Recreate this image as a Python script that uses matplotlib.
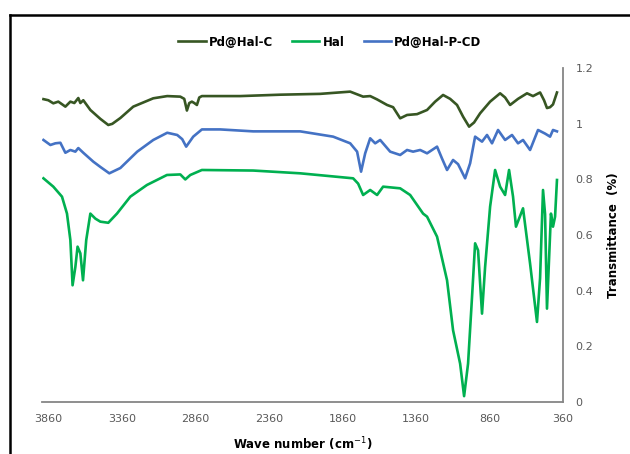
import matplotlib
matplotlib.use("Agg")
import matplotlib.pyplot as plt
from matplotlib.lines import Line2D

# ---- data ----
wn_pdhalc = [3895, 3862, 3828, 3794, 3767, 3746, 3712, 3685, 3658, 3644, 3624, 3576, 3508, 3454,
             3427, 3372, 3284, 3148, 3053, 2964, 2937, 2919, 2903, 2885, 2869, 2851, 2835, 2817,
             2556, 2284, 2012, 1808, 1720, 1672, 1625, 1557, 1516, 1468, 1421, 1353, 1285, 1230,
             1176, 1128, 1081, 1040, 999, 965, 924, 856, 788, 754, 720, 666, 605, 564, 516, 489,
             469, 448, 428, 401]
t_pdhalc = [1.089, 1.085, 1.074, 1.080, 1.070, 1.062, 1.080, 1.075, 1.093, 1.075, 1.085, 1.050,
            1.018, 0.996, 1.000, 1.021, 1.062, 1.092, 1.100, 1.098, 1.090, 1.048, 1.075, 1.080,
            1.075, 1.068, 1.095, 1.100, 1.100, 1.105, 1.108, 1.116, 1.098, 1.100, 1.088, 1.068,
            1.060, 1.020, 1.032, 1.035, 1.050, 1.080, 1.104, 1.090, 1.068, 1.026, 0.990, 1.005,
            1.038, 1.080, 1.110, 1.095, 1.068, 1.090, 1.110, 1.100, 1.113, 1.085, 1.057, 1.060,
            1.070, 1.113]

wn_hal = [3895, 3828, 3769, 3735, 3712, 3697, 3678, 3663, 3644, 3626, 3604, 3576, 3542, 3508,
          3454, 3395, 3304, 3191, 3055, 2964, 2930, 2896, 2817, 2468, 2148, 1788, 1754, 1720,
          1672, 1625, 1584, 1468, 1400, 1312, 1285, 1217, 1149, 1108, 1060, 1033, 1006, 979,
          958, 938, 911, 890, 856, 822, 788, 754, 727, 700, 680, 632, 584, 537, 516, 496, 482,
          469, 442, 428, 414, 401]
t_hal = [0.804, 0.774, 0.738, 0.677, 0.582, 0.419, 0.485, 0.558, 0.534, 0.437, 0.582, 0.677,
         0.659, 0.648, 0.644, 0.677, 0.738, 0.780, 0.816, 0.818, 0.800, 0.816, 0.834, 0.832,
         0.822, 0.804, 0.785, 0.744, 0.762, 0.744, 0.774, 0.768, 0.744, 0.677, 0.666, 0.594,
         0.437, 0.257, 0.137, 0.020, 0.137, 0.377, 0.570, 0.545, 0.317, 0.485, 0.702, 0.834,
         0.774, 0.744, 0.834, 0.738, 0.630, 0.696, 0.497, 0.287, 0.445, 0.762, 0.675, 0.335,
         0.677, 0.630, 0.666, 0.798]

wn_pdhalpcd = [3895, 3848, 3814, 3780, 3746, 3712, 3678, 3658, 3624, 3556, 3508, 3447, 3372,
               3257, 3148, 3053, 2985, 2951, 2924, 2876, 2817, 2692, 2468, 2148, 1924, 1808,
               1761, 1734, 1706, 1672, 1638, 1604, 1536, 1468, 1421, 1380, 1332, 1285, 1217,
               1183, 1149, 1108, 1074, 1026, 992, 958, 911, 877, 843, 802, 754, 707, 666, 632,
               584, 530, 482, 448, 428, 401]
t_pdhalpcd = [0.942, 0.924, 0.930, 0.932, 0.896, 0.906, 0.900, 0.913, 0.896, 0.864, 0.845,
              0.822, 0.841, 0.900, 0.942, 0.968, 0.960, 0.945, 0.918, 0.954, 0.980, 0.980,
              0.973, 0.973, 0.954, 0.930, 0.900, 0.828, 0.894, 0.948, 0.930, 0.942, 0.900,
              0.888, 0.906, 0.900, 0.906, 0.894, 0.918, 0.875, 0.834, 0.870, 0.855, 0.804,
              0.858, 0.954, 0.936, 0.960, 0.930, 0.978, 0.942, 0.960, 0.930, 0.942, 0.906,
              0.978, 0.965, 0.954, 0.978, 0.973]

series_names = ["Pd@Hal-C", "Hal", "Pd@Hal-P-CD"]
x_ticks = [3860, 3360, 2860, 2360, 1860, 1360, 860, 360]
y_ticks = [0, 0.2, 0.4, 0.6, 0.8, 1, 1.2]
y_tick_labels = ["0", "0.2", "0.4", "0.6", "0.8", "1", "1.2"]

colors = ["#375623", "#00B050", "#4472C4"]

fig = plt.figure(figsize=(6.30, 4.54), dpi=100)
ax = fig.add_axes([42/630, 52.3/454, (563-42)/630, (401.7-68.3)/454])

for wn, t, name, c in zip([wn_pdhalc, wn_hal, wn_pdhalpcd],
                          [t_pdhalc, t_hal, t_pdhalpcd], series_names, colors):
    ax.plot(wn, t, color=c, lw=1.9, label=name, solid_joinstyle="round")

ax.set_xlim(3905, 360)
ax.set_ylim(0, 1.2)
ax.set_xticks(x_ticks)
ax.set_xticklabels([str(v) for v in x_ticks])
ax.set_yticks(y_ticks)
ax.set_yticklabels(y_tick_labels)
ax.yaxis.tick_right()
ax.yaxis.set_label_position("right")
ax.tick_params(axis="both", length=0, labelsize=8, labelcolor="#595959")
ax.tick_params(axis="x", pad=9)
ax.tick_params(axis="y", pad=9)
for s in ["left", "top"]:
    ax.spines[s].set_visible(False)
for s in ["bottom", "right"]:
    ax.spines[s].set_color("#868686")
    ax.spines[s].set_linewidth(1.3)

ax.set_xlabel("Wave number (cm$^{-1}$)", fontsize=8.5, fontweight="bold", labelpad=8)
ax.set_ylabel("Transmittance  (%)", fontsize=8.5, fontweight="bold", labelpad=10)

leg = ax.legend(loc="center", bbox_to_anchor=(330/630, 1 - 42/454), bbox_transform=fig.transFigure,
                ncol=3, frameon=False, prop={"weight": "bold", "size": 8.5},
                handlelength=2.3, handletextpad=0.3, columnspacing=1.6)

# outer chart-area frame (extends beyond the image on right and bottom)
fig.add_artist(Line2D([9.5/630, 9.5/630], [-0.1, 1 - 14.5/454], transform=fig.transFigure,
                      color="black", lw=1.8))
fig.add_artist(Line2D([9.5/630, 1.1], [1 - 14.5/454, 1 - 14.5/454], transform=fig.transFigure,
                      color="black", lw=1.8))

fig.savefig("out.png", dpi=100)
